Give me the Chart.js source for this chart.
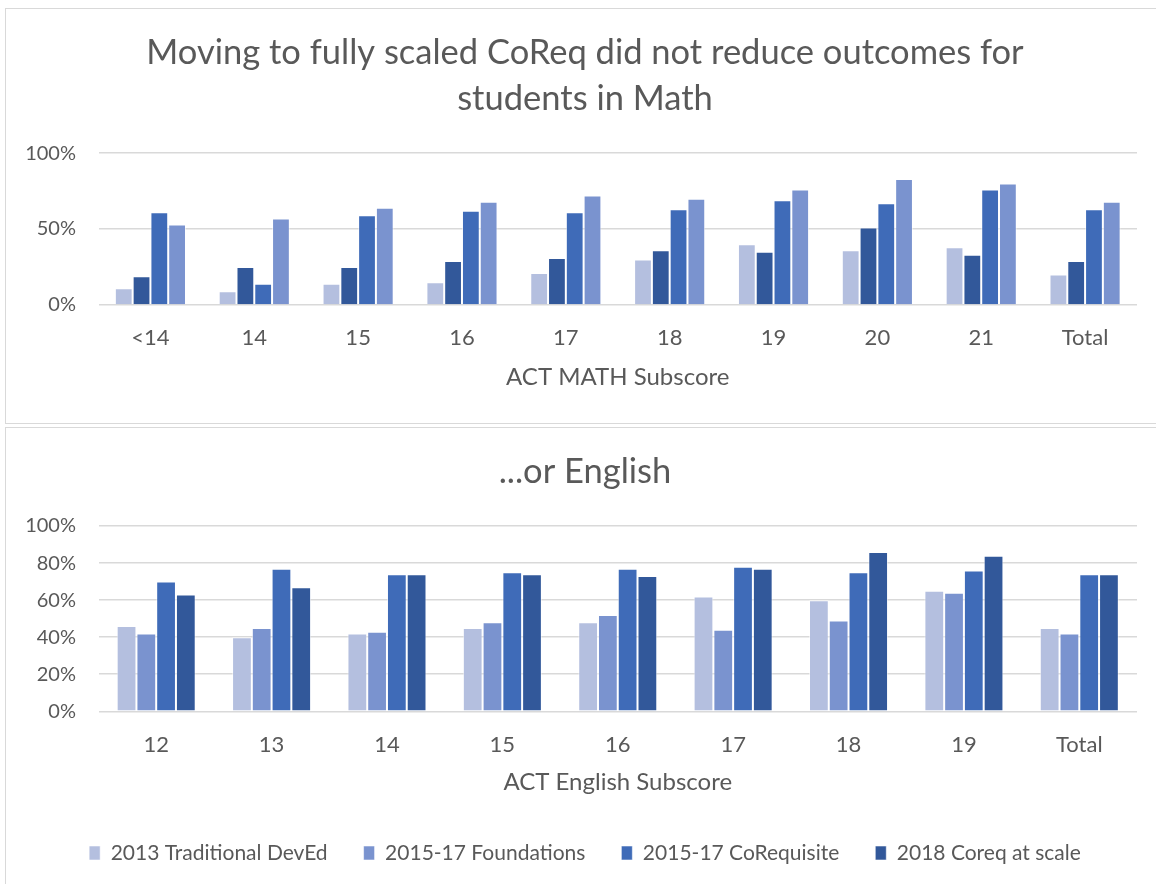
<!DOCTYPE html>
<html>
<head>
<meta charset="utf-8">
<script src="https://cdn.jsdelivr.net/npm/chart.js@4.4.1/dist/chart.umd.min.js"></script>
<style>
  html, body { margin: 0; padding: 0; background: #fff; overflow: hidden; width: 1156px; height: 884px; }
  .panel { position: absolute; left: 5px; width: 1200px; border: 1px solid #d9d9d9; }
  #mathPanel { top: 8px; height: 414px; }
  #engPanel { top: 427px; height: 500px; }
  canvas { position: absolute; left: 0; }
  #mathChart { top: 0; }
  #engChart { top: 427px; }
</style>
</head>
<body>
<div class="panel" id="mathPanel"></div>
<div class="panel" id="engPanel"></div>
<canvas id="mathChart" width="1190" height="424"></canvas>
<canvas id="engChart" width="1190" height="457"></canvas>
<script>
// math chart data (percent passing)
const mathLabels = ['<14', '14', '15', '16', '17', '18', '19', '20', '21', 'Total'];
const mathTraditional = [11, 9, 14, 15, 21, 30, 40, 36, 38, 20];
const mathCoreqScale = [19, 25, 25, 29, 31, 36, 35, 51, 33, 29];
const mathCorequisite = [61, 14, 59, 62, 61, 63, 69, 67, 76, 63];
const mathFoundations = [53, 57, 64, 68, 72, 70, 76, 83, 80, 68];

// english chart data
const engLabels = ['12', '13', '14', '15', '16', '17', '18', '19', 'Total'];
const engTraditional = [46, 40, 42, 45, 48, 62, 60, 65, 45];
const engFoundations = [42, 45, 43, 48, 52, 44, 49, 64, 42];
const engCorequisite = [70, 77, 74, 75, 77, 78, 75, 76, 74];
const engCoreqScale = [63, 67, 74, 74, 73, 77, 86, 84, 74];

const cLight = '#b4bfdf';
const cMed = '#7a93cf';
const cBlue = '#3f6bb8';
const cDark = '#32589a';
const textColor = '#595959';

Chart.defaults.font.family = 'Lato, "Liberation Sans", sans-serif';
Chart.defaults.color = textColor;

const ds = (label, data, color) => ({
  label: label,
  data: data,
  backgroundColor: color,
  borderColor: 'rgba(255,255,255,0.55)',
  borderWidth: 1,
  categoryPercentage: 0.685,
  barPercentage: 1.0
});

const yAxis = (step) => ({
  min: 0,
  max: 100,
  ticks: { stepSize: step, callback: v => v + '%', font: { size: 20 }, padding: 22.5, color: textColor },
  grid: { color: '#d9d9d9', lineWidth: 1.5, drawTicks: false },
  border: { display: false },
  afterFit(s) { s.width = 98.5; }
});

// empty axis on the right, only there to keep the plot off the right edge
const spacer = {
  type: 'linear',
  position: 'right',
  ticks: { display: false },
  grid: { display: false, drawTicks: false },
  border: { display: false },
  afterFit(s) { s.width = 33; }
};

new Chart(document.getElementById('mathChart'), {
  type: 'bar',
  data: {
    labels: mathLabels,
    datasets: [
      ds('2013 Traditional DevEd', mathTraditional, cLight),
      ds('2018 Coreq at scale', mathCoreqScale, cDark),
      ds('2015-17 CoRequisite', mathCorequisite, cBlue),
      ds('2015-17 Foundations', mathFoundations, cMed)
    ]
  },
  options: {
    responsive: false,
    animation: false,
    layout: { padding: { left: 0, right: 20, top: 0, bottom: 0 } },
    plugins: {
      legend: { display: false },
      tooltip: { enabled: false },
      title: {
        display: true,
        text: ['Moving to fully scaled CoReq did not reduce outcomes for', 'students in Math'],
        font: { size: 34.5, weight: 'normal', lineHeight: 1.34 },
        color: textColor,
        padding: { top: 30, bottom: 30.6 }
      }
    },
    scales: {
      x: {
        grid: { display: false },
        border: { display: false },
        ticks: { font: { size: 22 }, padding: 11.5, color: textColor },
        title: { display: true, text: 'ACT MATH Subscore', font: { size: 24 }, color: textColor, padding: { top: 0, bottom: 32.6 } },
        afterFit(s) { s.height = 424 - 305; }
      },
      y: yAxis(50),
      yR: spacer
    }
  }
});

new Chart(document.getElementById('engChart'), {
  type: 'bar',
  data: {
    labels: engLabels,
    datasets: [
      ds('2013 Traditional DevEd', engTraditional, cLight),
      ds('2015-17 Foundations', engFoundations, cMed),
      ds('2015-17 CoRequisite', engCorequisite, cBlue),
      ds('2018 Coreq at scale', engCoreqScale, cDark)
    ]
  },
  options: {
    responsive: false,
    animation: false,
    layout: { padding: { left: 0, right: 20, top: 0, bottom: 10.5 } },
    plugins: {
      tooltip: { enabled: false },
      title: {
        display: true,
        text: '...or English',
        font: { size: 34.5, weight: 'normal', lineHeight: 1.34 },
        color: textColor,
        padding: { top: 22, bottom: 30.8 }
      },
      legend: {
        position: 'bottom',
        labels: { boxWidth: 11, boxHeight: 14, padding: 36, font: { size: 21 }, color: textColor }
      }
    },
    scales: {
      x: {
        grid: { display: false },
        border: { display: false },
        ticks: { font: { size: 22 }, padding: 12.5, color: textColor },
        title: { display: true, text: 'ACT English Subscore', font: { size: 24 }, color: textColor, padding: { top: 0, bottom: 10.1 } },
        afterFit(s) { s.height = 379.5 - 284.3; }
      },
      y: yAxis(20),
      yR: spacer
    }
  }
});
</script>
</body>
</html>
